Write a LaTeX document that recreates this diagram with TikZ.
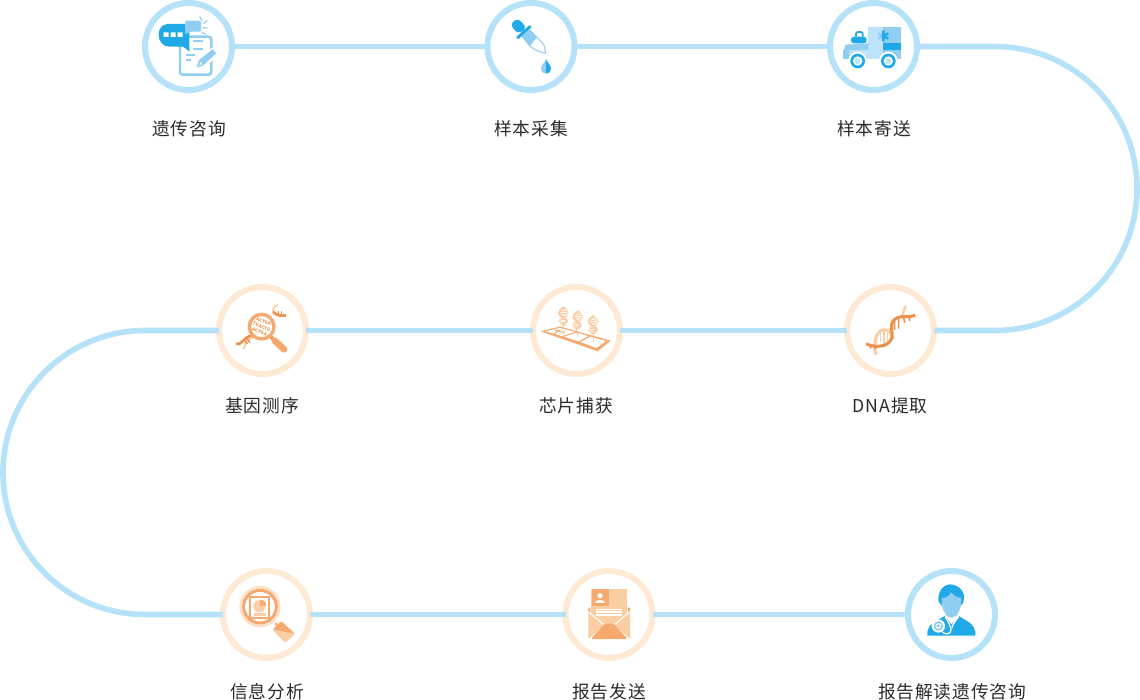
\documentclass[tikz,border=0pt]{standalone}
\usepackage{fontspec}
\setmainfont{Noto Sans CJK SC}[LetterSpace=5]
\definecolor{linkblue}{HTML}{B5E1F9}
\definecolor{ringorange}{HTML}{FDE9D4}
\definecolor{iblue}{HTML}{1FA9E6}
\definecolor{imid}{HTML}{8FCDF3}
\definecolor{ipale}{HTML}{BCE3FA}
\definecolor{odark}{HTML}{EE8F4A}
\definecolor{omid}{HTML}{F5A96E}
\definecolor{olight}{HTML}{FBCDA2}
\definecolor{opale}{HTML}{FDE0C4}
\definecolor{labelcol}{HTML}{2B2B2B}
\tikzset{
 stepblue/.style={circle,draw=linkblue,line width=6pt,fill=white,minimum size=87pt,inner sep=0pt,outer sep=0pt},
 steporange/.style={circle,draw=ringorange,line width=6pt,fill=white,minimum size=87pt,inner sep=0pt,outer sep=0pt},
 link/.style={draw=linkblue,line width=5.6pt},
 steplabel/.style={font=\fontsize{17.7pt}{20pt}\selectfont,text=labelcol,inner sep=0pt},
 zoomed/.style={x=0.33333pt,y=-0.33333pt},
}
\newcommand{\tinyhelix}[3]{%
 \begin{scope}[shift={(#1,#2)},rotate=#3]
  \draw[olight,line width=.9pt] (0,26)--(0,46);
  \draw[opale,line width=2.2pt] (-4,-26) .. controls (22,-14) and (14,-4) .. (0,4) .. controls (-16,12) and (-14,20) .. (4,28);
  \draw[olight,line width=2.2pt] (4,-26) .. controls (-20,-14) and (-14,-4) .. (0,4) .. controls (16,12) and (14,20) .. (-4,28);
  \draw[olight,line width=.9pt] (-7,-14)--(7,-14) (-7,-7)--(7,-7) (-7,11)--(7,11) (-7,18)--(7,18);
 \end{scope}}
\begin{document}
\begin{tikzpicture}[x=1pt,y=-1pt]
\useasboundingbox (0,0) rectangle (1140,700);
\fill[white] (0,0) rectangle (1140,700);
% steps
\node[stepblue] (s1) at (188.5,46.5) {};
\node[stepblue] (s2) at (531,46.5) {};
\node[stepblue] (s3) at (873.5,46.5) {};
\node[steporange] (s4) at (890.5,330.5) {};
\node[steporange] (s5) at (576.5,330.5) {};
\node[steporange] (s6) at (262.5,330.5) {};
\node[steporange] (s7) at (266.5,614.5) {};
\node[steporange] (s8) at (609,614.5) {};
\node[stepblue] (s9) at (951.5,614.5) {};
% connectors
\draw[link] (s1) -- (s2);
\draw[link] (s2) -- (s3);
\draw[link] (s3.east) -- (995,46.5) .. controls (1073.4,46.5) and (1137,110) .. (1137,188.5) .. controls (1137,267) and (1073.4,330.5) .. (995,330.5) -- (s4.east);
\draw[link] (s4) -- (s5);
\draw[link] (s5) -- (s6);
\draw[link] (s6.west) -- (145,330.5) .. controls (66.6,330.5) and (3,394) .. (3,472.5) .. controls (3,551) and (66.6,614.5) .. (145,614.5) -- (s7.west);
\draw[link] (s7) -- (s8);
\draw[link] (s8) -- (s9);
% labels
\node[steplabel] (t1) at (189,129) {遗传咨询};
\node[steplabel] (t2) at (531,129) {样本采集};
\node[steplabel] (t3) at (874,129) {样本寄送};
\node[steplabel] (t4) at (890,406) {DNA提取};
\node[steplabel] (t5) at (576,406) {芯片捕获};
\node[steplabel] (t6) at (262,406) {基因测序};
\node[steplabel] (t7) at (267,692) {信息分析};
\node[steplabel] (t8) at (609,692) {报告发送};
\node[steplabel] (t9) at (952,692) {报告解读遗传咨询};
% icon 1
\begin{scope}[shift={(130,0)},zoomed]
 \draw[imid,line width=2.4pt,rounded corners=2.5pt,fill=white] (150,110) rectangle (244,224);
 \fill[iblue] (112,72) -- (178,72) -- (178,155) .. controls (170,148) and (165,142) .. (158,140) -- (118,140) .. controls (76,138) and (76,74) .. (112,72) -- cycle;
 \fill[white] (101,97) rectangle (116,111) (122,97) rectangle (137,111) (143,97) rectangle (158,111);
 \fill[imid,rounded corners=2pt] (165,62) -- (213,62) -- (213,95) -- (178,95) -- (166,105) -- cycle;
 \draw[imid,line width=1.1pt,line cap=round] (209,50)--(216,62) (221,71)--(232,62) (219,83)--(232,84) (214,96)--(227,103);
 \draw[imid,line width=1.8pt] (190,122)--(220,122) (190,148)--(220,148) (168,165)--(196,165) (168,180)--(184,180);
 \fill[white] (196,207) -- (204,176) -- (254,138) -- (270,160) -- (224,202) -- cycle;
 \fill[imid] (200,203) -- (207,180) -- (248,148) -- (258,160) -- (220,196) -- cycle;
 \fill[white] (208,194) -- (212,186) -- (218,193) -- cycle;
\end{scope}
% icon 2
\begin{scope}[shift={(480,0)},zoomed]
 \fill[iblue,rounded corners=2pt] (93,72) -- (110,57) -- (124,64) -- (138,84) -- (118,100) -- (102,90) -- cycle;
 \draw[imid,line width=1pt,fill=white,line join=round] (170,110) -- (192,135) -- (197,160) -- (172,153) -- (148,138) -- cycle;
 \fill[imid] (124,110) -- (150,88) -- (170,110) -- (148,138) -- cycle;
 \draw[iblue,line width=3pt,line cap=round] (113,113) -- (150,80);
 \fill[imid] (198,178) .. controls (192,190) and (183,197) .. (183,207) .. controls (183,216) and (190,221) .. (198,221) -- cycle;
 \fill[iblue] (198,178) .. controls (204,190) and (213,197) .. (213,207) .. controls (213,216) and (206,221) .. (198,221) -- cycle;
\end{scope}
% icon 3
\begin{scope}[shift={(820,0)},zoomed]
 \fill[ipale] (145,82) rectangle (190,150);
 \fill[imid] (190,82) rectangle (242,130);
 \fill[iblue] (190,130) rectangle (242,150);
 \draw[imid,line width=2.4pt] (190,92)--(190,124) (175,100)--(190,108) (175,116)--(190,108);
 \draw[iblue,line width=2.4pt] (190,92)--(190,124) (190,108)--(205,100) (190,108)--(205,116);
 \fill[imid] (72,150) -- (76,134) -- (145,130) -- (145,150) -- cycle;
 \fill[ipale] (70,150) rectangle (190,178);
 \fill[imid] (70,150) rectangle (88,178);
 \fill[imid] (190,150) rectangle (242,178);
 \draw[iblue,line width=1.8pt,rounded corners=2pt] (108,110) -- (108,96) -- (128,96) -- (128,110);
 \fill[iblue,rounded corners=3pt] (93,110) rectangle (140,130);
 \fill[white] (113,183) circle[radius=28] (205,183) circle[radius=28];
 \fill[iblue] (113,183) circle[radius=22] (205,183) circle[radius=22];
 \fill[white] (113,183) circle[radius=14] (205,183) circle[radius=14];
 \fill[ipale] (113,183) circle[radius=9] (205,183) circle[radius=9];
\end{scope}
% icon 4
\begin{scope}[shift={(210,280)},zoomed]
 \draw[olight,line width=1.8pt] (100,208) .. controls (106,190) and (112,176) .. (130,172);
 \draw[odark,line width=2.6pt] (78,192) .. controls (95,198) and (100,170) .. (128,166);
 \draw[odark,line width=1.4pt] (104,180)--(112,192) (112,176)--(120,188);
 \draw[olight,line width=1.8pt] (190,100) .. controls (186,85) and (194,78) .. (204,75);
 \draw[odark,line width=2.6pt] (190,95) .. controls (200,108) and (212,108) .. (228,106);
 \draw[odark,line width=1.4pt] (205,92)--(205,106) (215,94)--(215,106);
 \draw[odark,line width=3.4pt] (180,168) -- (196,184);
 \draw[omid,line width=6.6pt,line cap=round] (194,182) -- (222,208);
 \draw[omid,line width=3.4pt,fill=white] (155,140) circle[radius=37];
 \node[rotate=-22,text=odark,font=\fontsize{4.4pt}{5.6pt}\selectfont\bfseries,align=center,inner sep=0pt] (m4) at (155,140) {ACYGA\\TGACTG\\ACYGA};
\end{scope}
% icon 5
\begin{scope}[shift={(525,280)},zoomed]
 \tinyhelix{115}{108}{0}
 \tinyhelix{157}{120}{-5}
 \tinyhelix{204}{134}{0}
 \fill[omid] (47,154) -- (105,140) -- (257,182) -- (218,214) -- cycle;
 \fill[white] (62,154) -- (104,144) -- (150,156) -- (110,168) -- cycle;
 \fill[white] (117,170) -- (156,158) -- (190,168) -- (160,184) -- cycle;
 \fill[white] (166,186) -- (196,170) -- (243,183) -- (214,204) -- cycle;
 \draw[omid,line width=.9pt] (88,150) -- (120,158) (84,164)--(104,150);
 \draw[olight,line width=.7pt] (115,150)--(115,162) (157,158)--(157,172) (204,172)--(204,186);
\end{scope}
% icon 6
\begin{scope}[shift={(840,280)},zoomed]
 \draw[olight,line width=1.6pt] (122,152)--(122,186) (132,150)--(132,192) (142,150)--(142,190);
 \draw[olight,line width=3pt] (108,224) .. controls (100,200) and (104,152) .. (132,149) .. controls (152,148) and (152,165) .. (160,178);
 \draw[olight,line width=2.4pt] (180,112) .. controls (192,112) and (188,88) .. (198,78);
 \draw[odark,line width=1.6pt] (90,194)--(92,206) (104,196)--(106,208) (164,122)--(164,150) (176,116)--(176,146) (190,108)--(194,128) (206,108)--(210,122);
 \draw[odark,line width=3pt] (78,192) .. controls (105,202) and (142,205) .. (155,175) .. controls (162,155) and (140,125) .. (175,112) .. controls (190,108) and (210,112) .. (226,106);
\end{scope}
% icon 7
\begin{scope}[shift={(215,565)},zoomed]
 \draw[opale,line width=2.6pt,fill=white] (135,125) circle[radius=58];
 \draw[omid,line width=3pt] (135,125) circle[radius=49];
 \draw[omid,line width=2pt,fill=white] (106,97) rectangle (163,160);
 \fill[olight] (133,124) circle[radius=18];
 \fill[omid] (135,104) -- (135,122) -- (154,122) .. controls (154,112) and (146,104) .. (135,104) -- cycle;
 \fill[olight] (117,143) rectangle (152,152);
 \fill[omid] (183,177) circle[radius=5];
 \fill[omid,rounded corners=2pt] (173,193) -- (198,168) -- (240,206) -- (210,233) -- cycle;
 \fill[olight,rounded corners=2pt] (173,193) -- (210,233) -- (240,206) -- (205,200) -- cycle;
\end{scope}
% icon 8
\begin{scope}[shift={(555,565)},zoomed]
 \fill[omid] (100,128) rectangle (106,145) (219,128) rectangle (225,145);
 \fill[olight] (108,72) rectangle (215,190);
 \fill[omid] (110,72) rectangle (162,124);
 \fill[white] (135,92) circle[radius=8];
 \fill[white] (121,114) .. controls (121,102) and (149,102) .. (149,114) -- cycle;
 \draw[white,line width=1.1pt] (123,133)--(202,133) (123,141)--(202,141) (123,150)--(202,150);
 \fill[olight] (100,143) -- (148,180) -- (102,220) -- (100,220) -- cycle;
 \fill[olight] (225,143) -- (177,180) -- (223,220) -- (225,220) -- cycle;
 \draw[white,line width=1.1pt] (100,140) -- (145,178) (225,140) -- (180,178);
 \fill[omid,rounded corners=2pt] (107,222) -- (150,176) -- (175,176) -- (218,222) -- cycle;
\end{scope}
% icon 9
\begin{scope}[shift={(900,565)},zoomed]
 \fill[iblue] (82,212) -- (82,200) .. controls (84,178) and (110,168) .. (135,152) -- (175,152) .. controls (200,168) and (224,178) .. (226,200) -- (226,212) -- cycle;
 \fill[white] (133,152) -- (155,178) -- (178,152) -- cycle;
 \fill[iblue] (116,110) .. controls (112,85) and (125,60) .. (150,58) .. controls (180,60) and (198,82) .. (190,112) -- (183,122) -- (125,122) -- cycle;
 \fill[imid] (125,100) .. controls (140,98) and (150,90) .. (153,82) .. controls (160,92) and (172,98) .. (184,98) .. controls (186,130) and (172,158) .. (155,158) .. controls (138,158) and (122,130) .. (125,100) -- cycle;
 \draw[white,line width=1.2pt] (135,155) .. controls (145,170) and (150,180) .. (153,195) .. controls (155,210) and (130,208) .. (126,200);
 \draw[white,line width=1.2pt] (176,155) .. controls (165,170) and (158,178) .. (155,190);
 \fill[white] (115,183) circle[radius=20];
 \fill[iblue!60!white] (115,183) circle[radius=14];
 \fill[white] (115,183) circle[radius=9];
 \fill[iblue!60!white] (115,183) circle[radius=5];
\end{scope}
\end{tikzpicture}
\end{document}
